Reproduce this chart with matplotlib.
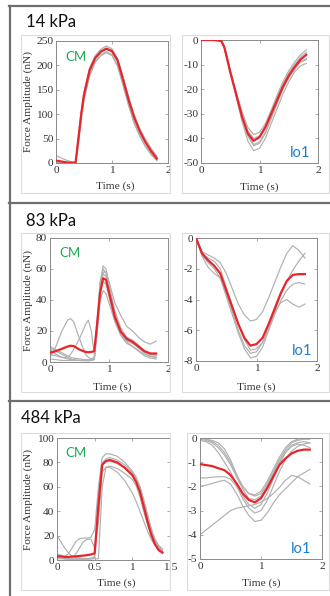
import matplotlib
matplotlib.use("Agg")
import matplotlib.pyplot as plt
from matplotlib.lines import Line2D
from matplotlib.patches import Rectangle

W, H = 330, 596

# ---------------- data ----------------
# Panel 1 : 14 kPa
t1 = [0, 0.1, 0.2, 0.3, 0.35, 0.4, 0.45, 0.5, 0.6, 0.7, 0.8, 0.9, 1.0, 1.1, 1.2, 1.3, 1.4, 1.5, 1.6, 1.7, 1.8]
cm1_mean = [5, 3, 1, 0.5, 1, 50, 100, 140, 190, 215, 228, 234, 229, 210, 170, 128, 92, 64, 42, 24, 9]
cm1_trials = [
    [15, 10, 5, 2, 2, 45, 95, 138, 188, 214, 228, 236, 231, 212, 172, 130, 95, 66, 44, 26, 11],
    [3, 2, 1, 0.5, 1, 55, 105, 145, 195, 220, 233, 240, 234, 214, 175, 132, 96, 67, 45, 27, 12],
    [2, 1, 0.5, 0.5, 1, 42, 92, 132, 182, 208, 222, 228, 222, 200, 160, 118, 82, 55, 34, 18, 5],
    [4, 2, 1, 0.5, 1, 50, 100, 142, 192, 218, 230, 235, 230, 212, 174, 134, 98, 70, 48, 30, 14],
    [3, 1, 0.5, 0.5, 0.5, 38, 88, 128, 178, 206, 220, 226, 220, 198, 158, 116, 80, 54, 33, 17, 6],
]
lo1_mean = [0, 0, 0, -0.2, -0.5, -3, -8, -13, -22, -31, -38, -41, -39.5, -35.5, -30, -24.5, -19, -14.5, -11, -8, -6]
lo1_trials = [
    [0, 0, 0, -0.2, -0.5, -3, -8, -13, -23, -33, -41, -45, -44, -40, -34, -28, -22, -17, -13, -10.5, -9.5],
    [0, 0, 0, -0.2, -0.4, -2.5, -7, -12, -21, -29, -35.5, -38.5, -37.5, -34, -28.5, -22.5, -17, -12.5, -9, -6, -4],
    [0, 0, 0, -0.2, -0.5, -3, -8, -13, -22, -31, -38, -42.5, -41.5, -37.5, -31.5, -25.5, -19.5, -15, -11.5, -9, -7.5],
    [0, 0, 0, -0.3, -0.6, -3.5, -8.5, -13.5, -22.5, -31, -37, -40, -39, -35, -29, -23.5, -18, -13.5, -10, -7, -5],
    [0, 0.2, 0.1, -0.1, -0.4, -3, -8, -13, -22, -31.5, -39, -43, -42, -38, -32, -26, -20, -15.5, -12, -9, -8],
]

# Panel 2 : 83 kPa
t2_cm = [0, 0.1, 0.2, 0.3, 0.35, 0.4, 0.5, 0.6, 0.65, 0.7, 0.75, 0.8, 0.85, 0.9, 0.95, 1.0, 1.1, 1.2, 1.3, 1.4, 1.5, 1.6, 1.7, 1.8]
cm2_mean = [6, 7, 8.5, 10, 10.5, 10.3, 8, 6.5, 6.3, 6.5, 7, 25, 45, 54, 53, 45, 29, 19.5, 15, 13, 10, 7, 5.5, 5.5]
cm2_trials = [
    [3, 10, 20, 27, 28, 26, 15, 5, 3, 2, 1.5, 20, 45, 57, 55, 46, 30, 20, 14, 12, 10, 7, 5, 4],
    [8, 5, 3, 3, 5, 8, 15, 24, 27, 20, 5, 25, 50, 62, 60, 50, 33, 22, 16, 14, 11, 7, 5, 5],
    [9, 7, 5, 3, 2, 1.5, 1, 0.8, 0.8, 1, 1.5, 22, 46, 58, 58, 52, 38, 30, 23, 20, 16, 13, 11.5, 13.5],
    [5, 4, 3, 2, 1.5, 1.2, 1, 1, 1, 1, 2, 20, 40, 46, 44, 38, 26, 18, 13, 10, 7, 4, 2.5, 2],
    [2, 1.5, 1, 1, 1, 1, 1, 1, 1, 1.2, 2, 28, 52, 60, 57, 48, 31, 20, 14, 12, 9, 6, 4, 3],
    [10, 8, 6, 4, 3, 2.5, 2, 1.5, 1.5, 2, 3, 24, 44, 52, 50, 42, 26, 17, 12, 10, 7.5, 5, 3.5, 3],
]
t2_lo = [0, 0.1, 0.2, 0.3, 0.4, 0.5, 0.6, 0.7, 0.8, 0.9, 1.0, 1.1, 1.2, 1.3, 1.4, 1.5, 1.6, 1.7, 1.8]
lo2_mean = [0, -1.0, -1.45, -1.8, -2.3, -3.4, -4.5, -5.6, -6.5, -7.0, -6.9, -6.5, -5.6, -4.6, -3.6, -2.8, -2.4, -2.35, -2.35]
lo2_trials = [
    [0, -0.9, -1.1, -1.3, -1.6, -2.3, -3.3, -4.3, -5.0, -5.4, -5.3, -4.8, -3.9, -2.9, -1.9, -1.0, -0.5, -0.8, -1.3],
    [0, -1.1, -1.6, -2.0, -2.6, -3.8, -5.0, -6.2, -7.2, -7.8, -7.7, -7.1, -6.0, -4.8, -3.7, -2.8, -2.1, -1.5, -1.0],
    [0, -1.0, -1.3, -1.5, -2.0, -3.2, -4.4, -5.6, -6.6, -7.3, -7.2, -6.8, -6.0, -5.0, -4.1, -3.4, -3.0, -2.9, -3.0],
    [0, -1.2, -1.9, -2.3, -2.6, -3.6, -4.8, -6.0, -7.0, -7.5, -7.4, -6.8, -5.8, -4.8, -4.2, -4.0, -4.3, -4.5, -4.3],
]

# Panel 3 : 484 kPa
t3_cm = [0, 0.05, 0.1, 0.15, 0.2, 0.25, 0.3, 0.35, 0.4, 0.45, 0.5, 0.55, 0.6, 0.65, 0.7, 0.8, 0.9, 1.0, 1.05, 1.1, 1.15, 1.2, 1.25, 1.3, 1.35, 1.4]
cm3_mean = [3, 3, 2.5, 2.5, 2.8, 3, 3.3, 3.6, 4, 4.5, 5.5, 45, 78, 81, 82, 80, 75.5, 69.5, 64, 56, 44, 32, 21, 13, 8, 6]
cm3_trials = [
    [20, 15, 10, 6, 3, 2, 1.5, 1, 1, 1.5, 2, 40, 79, 83, 84, 82, 78, 72, 67, 60, 48, 36, 25, 16, 10, 7],
    [5, 4, 3, 5, 10, 15, 17.5, 18, 18, 18.5, 25, 60, 84, 87, 87, 85, 80, 73, 68, 60, 48, 36, 25, 17, 12, 9],
    [3, 2, 1, 1, 2, 5, 10, 15, 17, 17, 10, 30, 72, 76, 77, 75, 71, 66, 61, 52, 40, 29, 20, 13, 9, 7],
    [1, 1, 1, 1, 1, 1, 1, 1, 1, 1, 1, 1, 60, 76, 76, 72, 65, 55, 48, 40, 32, 24, 17, 12, 9, 7],
    [2, 1.5, 1, 0.5, 0.5, 0.5, 0.5, 0.5, 0.5, 0.8, 3, 55, 80, 82, 81, 79, 76, 71, 67, 60, 50, 38, 26, 17, 11, 8],
]
t3_lo = [0, 0.1, 0.2, 0.3, 0.4, 0.5, 0.6, 0.7, 0.8, 0.9, 1.0, 1.1, 1.2, 1.3, 1.4, 1.5, 1.6, 1.7, 1.8]
lo3_mean = [-1.08, -1.12, -1.16, -1.25, -1.33, -1.53, -1.88, -2.29, -2.56, -2.66, -2.49, -2.08, -1.6, -1.12, -0.85, -0.64, -0.53, -0.48, -0.48]
lo3_trials = [
    [-4.0, -3.8, -3.6, -3.4, -3.2, -3.0, -2.9, -2.85, -2.8, -2.75, -2.65, -2.5, -2.3, -2.05, -1.75, -1.55, -1.6, -1.75, -1.9],
    [-2.0, -1.95, -1.88, -1.8, -1.75, -1.9, -2.3, -2.8, -3.2, -3.45, -3.4, -3.1, -2.7, -2.35, -2.1, -1.85, -1.6, -1.45, -1.3],
    [-1.65, -1.65, -1.62, -1.6, -1.6, -1.7, -2.0, -2.5, -2.9, -3.1, -3.0, -2.6, -2.0, -1.4, -0.9, -0.55, -0.35, -0.25, -0.2],
    [-0.05, -0.1, -0.2, -0.4, -0.7, -1.1, -1.6, -2.0, -2.3, -2.35, -2.2, -1.8, -1.3, -0.8, -0.4, -0.15, -0.05, 0, 0],
    [0, -0.05, -0.1, -0.2, -0.45, -0.9, -1.5, -2.0, -2.3, -2.4, -2.3, -1.9, -1.4, -0.9, -0.5, -0.2, -0.1, -0.05, -0.05],
    [-0.1, -0.15, -0.3, -0.6, -1.0, -1.4, -1.9, -2.4, -2.75, -2.9, -2.75, -2.3, -1.7, -1.1, -0.6, -0.3, -0.2, -0.15, -0.2],
    [0, -0.05, -0.15, -0.3, -0.6, -1.0, -1.6, -2.1, -2.5, -2.55, -2.4, -2.0, -1.5, -1.0, -0.6, -0.35, -0.25, -0.3, -0.4],
]

titles = ["14 kPa", "83 kPa", "484 kPa"]

# ---------------- layout ----------------
fig = plt.figure(figsize=(W / 100, H / 100), dpi=100)
fig.patch.set_facecolor("white")

def fx(x):
    return x / W

def fy(y):
    return 1 - y / H

def add_axes(x0, y0, x1, y1):
    return fig.add_axes([fx(x0), fy(y1), (x1 - x0) / W, (y1 - y0) / H])

GRAY = "#b0b0b0"
RED = "#e8262a"
GREEN = "#1faa55"
BLUE = "#1f7fd0"
SERIF = "Liberation Serif"
SANS = "Lato"
FS = 8.2

# light frames of the subplot images
frames = [
    (21, 35, 170, 193), (182, 35, 329, 193),
    (21, 233, 170, 392), (182, 233, 329, 392),
    (21, 433, 170, 590), (187, 433, 329, 590),
]
for (x0, y0, x1, y1) in frames:
    fig.add_artist(Rectangle((fx(x0), fy(y1)), (x1 - x0) / W, (y1 - y0) / H,
                             transform=fig.transFigure, fill=False,
                             edgecolor="#dcdcdc", linewidth=0.8))

# dark panel borders
for yy in (6, 203, 401):
    fig.add_artist(Line2D([fx(9), fx(330)], [fy(yy), fy(yy)], transform=fig.transFigure,
                          color="#6e6e6e", linewidth=1.6))
fig.add_artist(Line2D([fx(9.5), fx(9.5)], [fy(6), fy(596)], transform=fig.transFigure,
                      color="#6e6e6e", linewidth=1.6))

def style(ax, xlim, xticks, xticklabels, ylim, yticks, yticklabels):
    ax.set_xlim(*xlim)
    ax.set_ylim(*ylim)
    ax.set_xticks(xticks)
    ax.set_xticklabels(xticklabels, fontfamily=SERIF, fontsize=FS)
    ax.set_yticks(yticks)
    ax.set_yticklabels(yticklabels, fontfamily=SERIF, fontsize=FS)
    ax.tick_params(direction="in", length=2.5, width=0.5, pad=2, top=True, right=True,
                   colors="#888888", labelcolor="#333333")
    for s in ax.spines.values():
        s.set_color("#8a8a8a")
        s.set_linewidth(0.7)

def draw(ax, t, trials, mean):
    for tr in trials:
        ax.plot(t, tr, color=GRAY, linewidth=0.85, zorder=2)
    ax.plot(t, mean, color=RED, linewidth=1.6, zorder=3, solid_joinstyle="round")

panels = [
    dict(title_xy=(26, 27),
         L=(56, 41, 168, 163), R=(201, 40, 318, 163),
         tcm=t1, cm=cm1_trials, cmm=cm1_mean, tlo=t1, lo=lo1_trials, lom=lo1_mean,
         cmxlim=(0, 2), cmxt=[0, 1, 2], cmxtl=["0", "1", "2"],
         cmylim=(0, 250), cmyt=[0, 50, 100, 150, 200, 250],
         loylim=(-50, 0), loyt=[-50, -40, -30, -20, -10, 0],
         cm_txt=(0.08, 0.87), lo_txt=(0.93, 0.05), xlab_y=(186, 187)),
    dict(title_xy=(26, 226),
         L=(50, 238, 168, 362), R=(196, 238, 317, 361),
         tcm=t2_cm, cm=cm2_trials, cmm=cm2_mean, tlo=t2_lo, lo=lo2_trials, lom=lo2_mean,
         cmxlim=(0, 2), cmxt=[0, 1, 2], cmxtl=["0", "1", "2"],
         cmylim=(0, 80), cmyt=[0, 20, 40, 60, 80],
         loylim=(-8, 0), loyt=[-8, -6, -4, -2, 0],
         cm_txt=(0.076, 0.88), lo_txt=(0.96, 0.05), xlab_y=(387, 387)),
    dict(title_xy=(21, 423),
         L=(57, 438, 170, 560), R=(200, 438, 322, 559),
         tcm=t3_cm, cm=cm3_trials, cmm=cm3_mean, tlo=t3_lo, lo=lo3_trials, lom=lo3_mean,
         cmxlim=(0, 1.5), cmxt=[0, 0.5, 1, 1.5], cmxtl=["0", "0.5", "1", "1.5"],
         cmylim=(0, 100), cmyt=[0, 20, 40, 60, 80, 100],
         loylim=(-5, 0), loyt=[-5, -4, -3, -2, -1, 0],
         cm_txt=(0.07, 0.88), lo_txt=(0.91, 0.05), xlab_y=(583, 583)),
]

for title, p in zip(titles, panels):
    fig.text(fx(p["title_xy"][0]), fy(p["title_xy"][1]), title, fontfamily=SANS,
             fontsize=12, color="#111111", ha="left", va="baseline")

    # CM axes
    axL = add_axes(*p["L"])
    draw(axL, p["tcm"], p["cm"], p["cmm"])
    style(axL, p["cmxlim"], p["cmxt"], p["cmxtl"], p["cmylim"], p["cmyt"],
          [str(v) for v in p["cmyt"]])
    axL.text(p["cm_txt"][0], p["cm_txt"][1], "CM", transform=axL.transAxes,
             fontfamily=SANS, fontsize=9.5, color=GREEN, ha="left", va="center")
    x0, y0, x1, y1 = p["L"]
    fig.text(fx(28), fy((y0 + y1) / 2), "Force Amplitude (nN)", rotation=90,
             fontfamily=SERIF, fontsize=FS, color="#333333", ha="center", va="center")
    fig.text(fx((x0 + x1) / 2 + 3), fy(p["xlab_y"][0]), "Time (s)", fontfamily=SERIF,
             fontsize=FS, color="#333333", ha="center", va="center")

    # lo1 axes
    axR = add_axes(*p["R"])
    draw(axR, p["tlo"], p["lo"], p["lom"])
    style(axR, (0, 2), [0, 1, 2], ["0", "1", "2"], p["loylim"], p["loyt"],
          [str(v) for v in p["loyt"]])
    axR.text(p["lo_txt"][0], p["lo_txt"][1], "lo1", transform=axR.transAxes,
             fontfamily=SANS, fontsize=10.5, color=BLUE, ha="right", va="baseline")
    x0, y0, x1, y1 = p["R"]
    fig.text(fx((x0 + x1) / 2), fy(p["xlab_y"][1]), "Time (s)", fontfamily=SERIF,
             fontsize=FS, color="#333333", ha="center", va="center")

fig.savefig("out.png", dpi=100)
